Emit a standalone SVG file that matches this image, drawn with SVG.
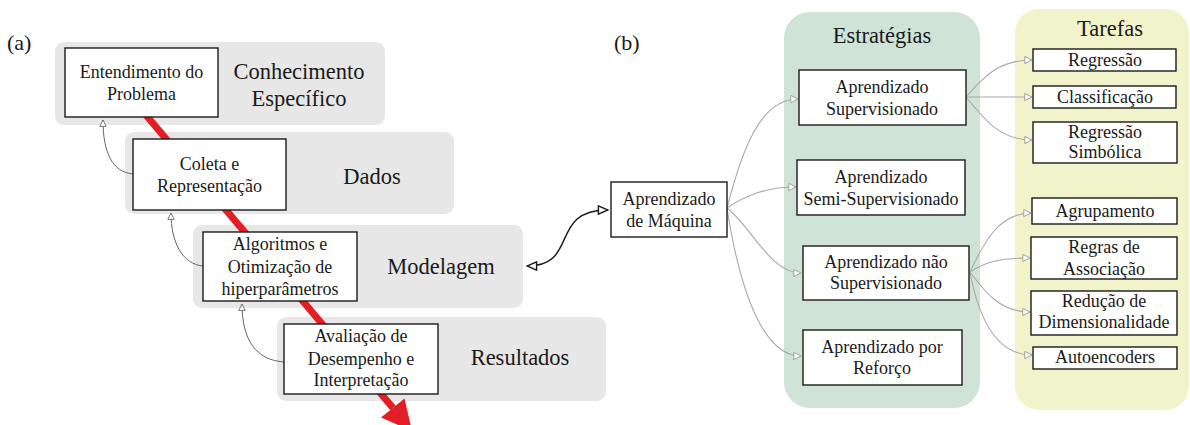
<svg xmlns="http://www.w3.org/2000/svg" width="1190" height="425" viewBox="0 0 1190 425">
<defs>
<style>
text{font-family:'Liberation Serif','Times New Roman',serif;fill:#1a1a1a;text-anchor:middle}
.lbl{font-size:22px;text-anchor:start}
.title{font-size:22.5px}
.bt{font-size:18px}
.band{fill:#e7e7e7}
.box{fill:#fff;stroke:#1a1a1a;stroke-width:1.4}
.fb{fill:none;stroke:#666;stroke-width:1}
.cn{fill:none;stroke:#a8a8a8;stroke-width:1.1}
</style>
<marker id="ag" viewBox="0 0 10 10" refX="9" refY="5" markerWidth="9" markerHeight="9" markerUnits="userSpaceOnUse" orient="auto-start-reverse">
<path d="M1,1 L9,5 L1,9 Z" fill="#fff" stroke="#999" stroke-width="1"/>
</marker>
<marker id="af" viewBox="0 0 10 10" refX="9" refY="5" markerWidth="8" markerHeight="8" markerUnits="userSpaceOnUse" orient="auto-start-reverse">
<path d="M1,1 L9,5 L1,9 Z" fill="#fff" stroke="#555" stroke-width="1"/>
</marker>
<marker id="ab" viewBox="0 0 10 10" refX="9" refY="5" markerWidth="12" markerHeight="12" markerUnits="userSpaceOnUse" orient="auto-start-reverse">
<path d="M1,1.5 L9,5 L1,8.5 Z" fill="#fff" stroke="#1a1a1a" stroke-width="1.2"/>
</marker>
</defs>

<text class="lbl" x="7" y="50">(a)</text>
<text class="lbl" x="614" y="50">(b)</text>

<g id="bands">
<rect class="band" x="55" y="42" width="330" height="83" rx="9"/>
<rect class="band" x="125" y="132" width="329" height="82" rx="9"/>
<rect class="band" x="193" y="225" width="330" height="83" rx="9"/>
<rect class="band" x="277" y="317" width="329" height="84" rx="9"/>
<rect id="estrategias-bg" x="784" y="12" width="196" height="396" rx="26" fill="#cfe3d7"/>
<rect id="tarefas-bg" x="1015" y="9" width="174" height="401" rx="24" fill="#f1f4cb"/>
</g>

<g id="titles">
<text class="title" x="299" y="79">Conhecimento</text>
<text class="title" x="299" y="106">Específico</text>
<text class="title" x="372" y="184">Dados</text>
<text class="title" x="441" y="274">Modelagem</text>
<text class="title" x="520" y="365">Resultados</text>
<text class="title" x="882" y="43">Estratégias</text>
<text class="title" x="1110" y="36">Tarefas</text>
</g>

<g id="flow">
<line x1="140" y1="108" x2="393" y2="408" stroke="#e31e24" stroke-width="7"/>
<polygon points="381,417.6 404.5,398.4 412,431" fill="#e31e24"/>
</g>

<g id="connectors">
<path class="fb" d="M133,174 C112,172 103,152 103,120" marker-end="url(#af)"/>
<path class="fb" d="M203,266 C182,264 171,242 171,213" marker-end="url(#af)"/>
<path class="fb" d="M284,362 C256,360 242,340 242,304" marker-end="url(#af)"/>
<path d="M527,266 C580,266 548,210 608,210" fill="none" stroke="#1a1a1a" stroke-width="1.5" marker-start="url(#ab)" marker-end="url(#ab)"/>
<path class="cn" d="M727,208 C742,150 760,99 798,99" marker-end="url(#ag)"/>
<path class="cn" d="M727,208 C745,196 765,187 796,187" marker-end="url(#ag)"/>
<path class="cn" d="M727,208 C750,225 770,273 801,273" marker-end="url(#ag)"/>
<path class="cn" d="M727,208 C735,260 755,356 801,356" marker-end="url(#ag)"/>
<path class="cn" d="M966,97 C985,75 1000,60 1032,60" marker-end="url(#ag)"/>
<path class="cn" d="M966,97 L1032,97" marker-end="url(#ag)"/>
<path class="cn" d="M966,97 C985,120 1000,140 1032,140" marker-end="url(#ag)"/>
<path class="cn" d="M970,272 C985,240 1000,213 1031,213" marker-end="url(#ag)"/>
<path class="cn" d="M970,272 C985,262 1000,258 1030,258" marker-end="url(#ag)"/>
<path class="cn" d="M970,272 C985,292 1000,312 1030,312" marker-end="url(#ag)"/>
<path class="cn" d="M970,272 C978,315 995,355 1032,355" marker-end="url(#ag)"/>
</g>

<g id="n-entendimento"><rect class="box" x="65" y="48" width="153" height="69"/><text class="bt" x="141.5" y="78">Entendimento do</text><text class="bt" x="141.5" y="100">Problema</text></g>
<g id="n-coleta"><rect class="box" x="133" y="139" width="153" height="71"/><text class="bt" x="209.5" y="170">Coleta e</text><text class="bt" x="209.5" y="192">Representação</text></g>
<g id="n-algoritmos"><rect class="box" x="203" y="232" width="154" height="69"/><text class="bt" x="280" y="250">Algoritmos e</text><text class="bt" x="280" y="273">Otimização de</text><text class="bt" x="280" y="295">hiperparâmetros</text></g>
<g id="n-avaliacao"><rect class="box" x="284" y="324" width="154" height="70"/><text class="bt" x="361" y="342">Avaliação de</text><text class="bt" x="361" y="365">Desempenho e</text><text class="bt" x="361" y="386">Interpretação</text></g>

<g id="n-maquina"><rect class="box" x="611" y="182" width="116" height="55"/><text class="bt" x="669" y="205">Aprendizado</text><text class="bt" x="669" y="227">de Máquina</text></g>

<g id="n-sup"><rect class="box" x="799" y="70" width="167" height="55"/><text class="bt" x="882" y="93">Aprendizado</text><text class="bt" x="882" y="115">Supervisionado</text></g>
<g id="n-semi"><rect class="box" x="797" y="160" width="168" height="55"/><text class="bt" x="881" y="183">Aprendizado</text><text class="bt" x="881" y="205">Semi-Supervisionado</text></g>
<g id="n-nsup"><rect class="box" x="803" y="246" width="166" height="54"/><text class="bt" x="886" y="268">Aprendizado não</text><text class="bt" x="886" y="289">Supervisionado</text></g>
<g id="n-reforco"><rect class="box" x="803" y="330" width="159" height="55"/><text class="bt" x="882" y="353">Aprendizado por</text><text class="bt" x="882" y="374">Reforço</text></g>

<g id="n-regressao"><rect class="box" x="1033" y="49" width="143" height="22"/><text class="bt" x="1105" y="66">Regressão</text></g>
<g id="n-classificacao"><rect class="box" x="1033" y="86" width="143" height="22"/><text class="bt" x="1105" y="103">Classificação</text></g>
<g id="n-simbolica"><rect class="box" x="1033" y="122" width="144" height="41"/><text class="bt" x="1105" y="138">Regressão</text><text class="bt" x="1105" y="158">Simbólica</text></g>
<g id="n-agrupamento"><rect class="box" x="1032" y="198" width="145" height="26"/><text class="bt" x="1105" y="217">Agrupamento</text></g>
<g id="n-regras"><rect class="box" x="1031" y="237" width="146" height="42"/><text class="bt" x="1104" y="253">Regras de</text><text class="bt" x="1104" y="275">Associação</text></g>
<g id="n-reducao"><rect class="box" x="1031" y="291" width="146" height="44"/><text class="bt" x="1104" y="307">Redução de</text><text class="bt" x="1104" y="328">Dimensionalidade</text></g>
<g id="n-autoencoders"><rect class="box" x="1033" y="347" width="144" height="22"/><text class="bt" x="1105" y="363">Autoencoders</text></g>
</svg>
